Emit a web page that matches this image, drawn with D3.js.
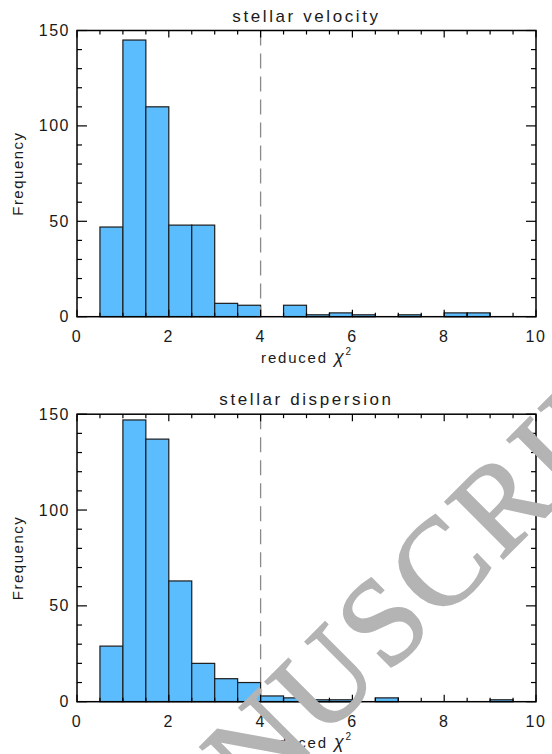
<!DOCTYPE html>
<html>
<head>
<meta charset="utf-8">
<script src="https://cdn.jsdelivr.net/npm/d3@7"></script>
<style>
  html, body { margin: 0; padding: 0; background: #fff; }
  svg { display: block; }
  text { font-family: "Liberation Sans", Arial, Helvetica, sans-serif; fill: #1a1a1a; }
</style>
</head>
<body>
<svg id="chart" width="552" height="754"></svg>
<script>
// ---------- data ----------
const binStarts = [0, 0.5, 1, 1.5, 2, 2.5, 3, 3.5, 4, 4.5, 5, 5.5, 6, 6.5, 7, 7.5, 8, 8.5, 9, 9.5];
const binWidth = 0.5;
const velocityCounts   = [0, 47, 145, 110, 48, 48, 7, 6, 0, 6, 1, 2, 1, 0, 1, 0, 2, 2, 0, 0];
const dispersionCounts = [0, 29, 147, 137, 63, 20, 12, 10, 3, 2, 1, 1, 0, 2, 0, 0, 0, 0, 1, 0];
const panelTitles = ["stellar velocity", "stellar dispersion"];
const xTickLabels = [0, 2, 4, 6, 8, 10];
const xMinorTicks = d3.range(0, 10.001, 0.5);
const yTickLabels = [0, 50, 100, 150];
const yMinorTicks = d3.range(0, 150.001, 10);
const cutoff = 4;
const xDomain = [0, 10];
const yDomain = [0, 150];

// ---------- layout ----------
const svg = d3.select("#chart");
const left = 77, right = 536;
const panels = [
  { title: panelTitles[0], counts: velocityCounts,   top: 30.5,  bottom: 316.7 },
  { title: panelTitles[1], counts: dispersionCounts, top: 414.2, bottom: 701.7 }
];

const x = d3.scaleLinear().domain(xDomain).range([left, right]);

panels.forEach(p => {
  const y = d3.scaleLinear().domain(yDomain).range([p.bottom, p.top]);
  const g = svg.append("g");

  // bars
  const bins = binStarts.map((s, i) => ({ x0: s, x1: s + binWidth, n: p.counts[i] }));
  g.selectAll("rect.bar").data(bins).join("rect")
    .attr("class", "bar")
    .attr("x", d => x(d.x0))
    .attr("width", d => x(d.x1) - x(d.x0))
    .attr("y", d => y(d.n))
    .attr("height", d => y(0) - y(d.n))
    .attr("fill", "#5bbdfd")
    .attr("stroke", "#1c1c1c")
    .attr("stroke-width", 1.2);

  // dashed cutoff line
  g.append("line")
    .attr("x1", x(cutoff)).attr("x2", x(cutoff))
    .attr("y1", y(yDomain[1])).attr("y2", y(0))
    .attr("stroke", "#8a8a8a").attr("stroke-width", 1.3)
    .attr("stroke-dasharray", "15,8");

  // frame
  g.append("rect")
    .attr("x", x(xDomain[0])).attr("y", y(yDomain[1]))
    .attr("width", x(xDomain[1]) - x(xDomain[0]))
    .attr("height", y(0) - y(yDomain[1]))
    .attr("fill", "none").attr("stroke", "#000").attr("stroke-width", 1.5);

  // x ticks (top and bottom, inward)
  const isMajorX = v => xTickLabels.some(t => Math.abs(t - v) < 1e-6);
  xMinorTicks.forEach(v => {
    const len = isMajorX(v) ? 7 : 4;
    g.append("line").attr("x1", x(v)).attr("x2", x(v))
      .attr("y1", y(0)).attr("y2", y(0) - len)
      .attr("stroke", "#000").attr("stroke-width", 1.2);
    g.append("line").attr("x1", x(v)).attr("x2", x(v))
      .attr("y1", y(yDomain[1])).attr("y2", y(yDomain[1]) + len)
      .attr("stroke", "#000").attr("stroke-width", 1.2);
  });
  // y ticks (left and right, inward)
  const isMajorY = v => yTickLabels.some(t => Math.abs(t - v) < 1e-6);
  yMinorTicks.forEach(v => {
    const len = isMajorY(v) ? 10 : 5;
    g.append("line").attr("x1", x(0)).attr("x2", x(0) + len)
      .attr("y1", y(v)).attr("y2", y(v))
      .attr("stroke", "#000").attr("stroke-width", 1.2);
    g.append("line").attr("x1", x(10)).attr("x2", x(10) - len)
      .attr("y1", y(v)).attr("y2", y(v))
      .attr("stroke", "#000").attr("stroke-width", 1.2);
  });

  // tick labels
  g.selectAll("text.xl").data(xTickLabels).join("text")
    .attr("class", "xl")
    .attr("x", d => x(d)).attr("y", y(0) + 25)
    .attr("text-anchor", "middle")
    .attr("font-size", 16).attr("letter-spacing", 1.5)
    .text(d => d);
  g.selectAll("text.yl").data(yTickLabels).join("text")
    .attr("class", "yl")
    .attr("x", x(0) - 7).attr("y", d => y(d) + 5.5)
    .attr("text-anchor", "end")
    .attr("font-size", 16).attr("letter-spacing", 1.5)
    .text(d => d);

  // title
  g.append("text")
    .attr("x", (left + right) / 2).attr("y", p.top - 9)
    .attr("text-anchor", "middle")
    .attr("font-size", 17).attr("letter-spacing", 2.6)
    .text(p.title);

  // x axis title
  const xt = g.append("text")
    .attr("x", 307).attr("y", p.bottom + 46)
    .attr("text-anchor", "middle")
    .attr("font-size", 15).attr("letter-spacing", 1.8);
  xt.append("tspan").text("reduced ");
  xt.append("tspan").attr("font-style", "italic").attr("font-size", 18).text("χ");
  xt.append("tspan").attr("font-size", 10).attr("dy", -8).text("2");

  // y axis title
  g.append("text")
    .attr("transform", `translate(23,${(p.top + p.bottom) / 2}) rotate(-90)`)
    .attr("text-anchor", "middle")
    .attr("font-size", 15).attr("letter-spacing", 1.5)
    .text("Frequency");
});

// watermark
svg.append("text")
  .attr("transform", "translate(108,954) rotate(-45)")
  .style("font-family", "'Liberation Serif', 'Times New Roman', serif")
  .attr("font-size", 124)
  .attr("letter-spacing", 4)
  .style("fill", "#b4b4b4")
  .style("stroke", "#b4b4b4")
  .style("stroke-width", 2)
  .text("MANUSCRIPT");
</script>
</body>
</html>
